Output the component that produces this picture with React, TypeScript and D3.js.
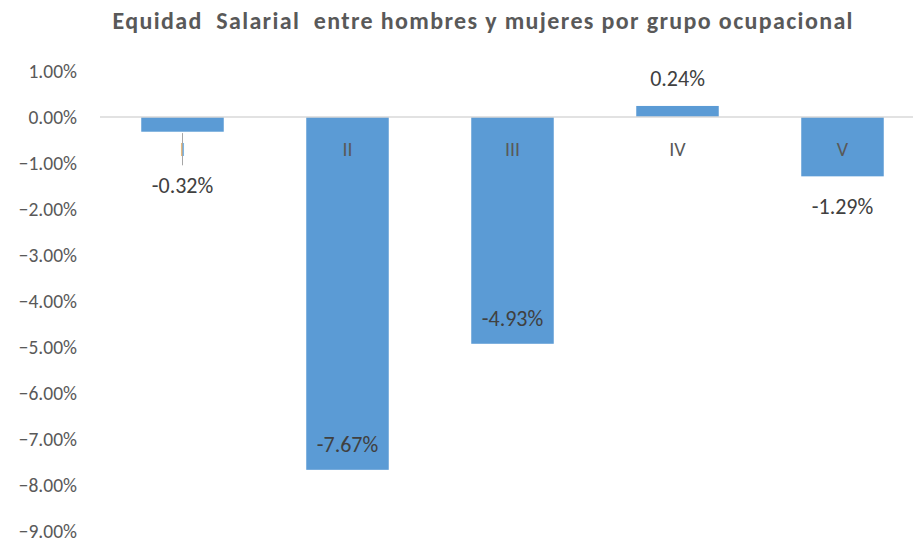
import React from "react";
import * as d3 from "d3";

const categories = ["I", "II", "III", "IV", "V"];
const values = [-0.32, -7.67, -4.93, 0.24, -1.29];
const valueLabels = ["-0.32%", "-7.67%", "-4.93%", "0.24%", "-1.29%"];
const yTicks = [1, 0, -1, -2, -3, -4, -5, -6, -7, -8, -9];
const title = "Equidad  Salarial  entre hombres y mujeres por grupo ocupacional";

const W = 913;
const H = 544;

export default function App() {
  const x = d3.scaleBand<string>().domain(categories).range([100, 925]).paddingInner(0.5).paddingOuter(0.25);
  const y = d3.scaleLinear().domain([-9, 1]).range([531, 71]);
  const font = "Carlito, Calibri, 'Liberation Sans', Arial, sans-serif";
  const bw = x.bandwidth();
  return (
    <svg width={W} height={H} style={{ position: "absolute", left: 0, top: 0, background: "#fff" }} fontFamily={font}>
      <text x={482.5} y={29} textAnchor="middle" fontSize={24} fontWeight="bold" fill="#595959"
        style={{ whiteSpace: "pre" }} textLength={740} lengthAdjust="spacing">{title}</text>
      {yTicks.map((t) => (
        <text key={t} x={77} y={y(t)} dy="0.35em" textAnchor="end" fontSize={19.5} fill="#595959">
          {d3.format(".2f")(t) + "%"}
        </text>
      ))}
      {categories.map((c, i) => {
        const v = values[i];
        const x0 = x(c)!;
        const y0 = y(Math.max(0, v));
        const y1 = y(Math.min(0, v));
        return <rect key={c} x={x0} y={y0} width={bw} height={y1 - y0} fill="#5B9BD5" />;
      })}
      <line x1={100} x2={913} y1={y(0)} y2={y(0)} stroke="#D9D9D9" strokeWidth={1.5} />
      {categories.map((c) => (
        <text key={"c" + c} x={x(c)! + bw / 2} y={y(-0.7)} dy="0.35em" textAnchor="middle" fontSize={20} fill="#595959">{c}</text>
      ))}
      {/* leader line for first label */}
      <line x1={x("I")! + bw / 2} x2={x("I")! + bw / 2} y1={y(-0.35)} y2={y(-1.05)} stroke="#A6A6A6" strokeWidth={1} />
      {categories.map((c, i) => {
        const v = values[i];
        const cx = x(c)! + bw / 2;
        let ly: number;
        if (i === 0) ly = y(-1.48);
        else if (i === 1 || i === 2) ly = y(v + 0.55);
        else if (v > 0) ly = y(v + 0.6);
        else ly = y(v - 0.65);
        return (
          <text key={"v" + c} x={cx} y={ly} dy="0.35em" textAnchor="middle" fontSize={22} fill="#404040">{valueLabels[i]}</text>
        );
      })}
    </svg>
  );
}
